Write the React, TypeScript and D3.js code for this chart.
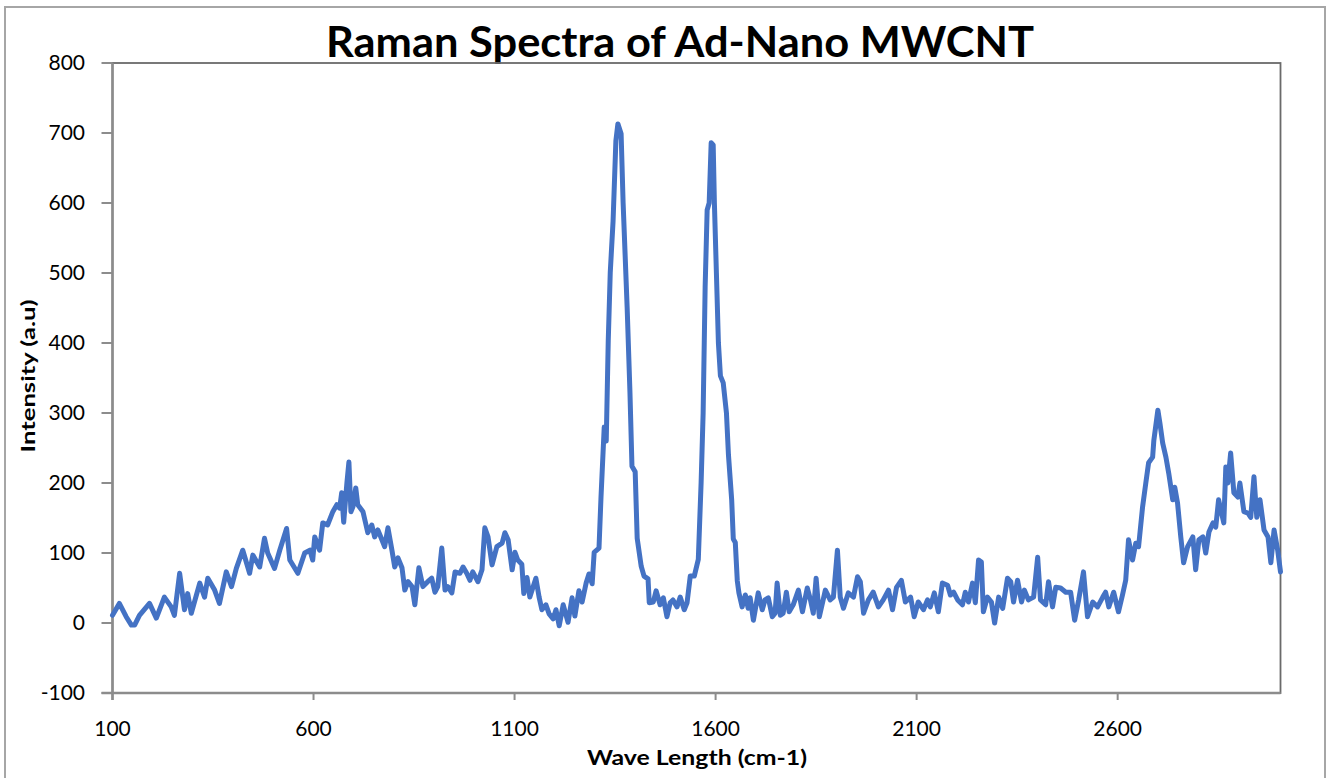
import React from 'react';
import * as d3 from 'd3';

// Raman shift (cm-1) and intensity
const WAVE = [
  100, 117, 134, 147, 155, 167, 192, 209, 229, 246, 254, 267, 279, 287, 296, 317, 329, 337, 354, 366,
  383, 396, 408, 424, 441, 449, 466, 478, 486, 503, 516, 533, 541, 561, 578, 591, 598, 603, 615, 623,
  635, 648, 658, 665, 670, 675, 683, 688, 693, 698, 705, 710, 723, 735, 745, 752, 760, 770, 777, 785,
  795, 802, 810, 820, 827, 835, 845, 852, 862, 872, 884, 894, 902, 909, 919, 927, 934, 944, 952, 964,
  972, 981, 989, 996, 1009, 1019, 1026, 1034, 1044, 1056, 1069, 1076, 1084, 1094, 1101, 1108, 1118, 1123, 1131, 1138,
  1153, 1161, 1168, 1178, 1186, 1196, 1203, 1211, 1221, 1233, 1243, 1250, 1260, 1268, 1278, 1285, 1293, 1298, 1310, 1315,
  1323, 1328, 1333, 1338, 1345, 1352, 1357, 1365, 1370, 1380, 1387, 1392, 1400, 1405, 1415, 1422, 1432, 1435, 1445, 1452,
  1462, 1470, 1479, 1487, 1494, 1504, 1512, 1522, 1529, 1537, 1547, 1557, 1564, 1569, 1574, 1579, 1584, 1589, 1594, 1597,
  1602, 1607, 1612, 1619, 1627, 1632, 1640, 1644, 1649, 1654, 1658, 1666, 1674, 1681, 1686, 1694, 1706, 1716, 1723, 1731,
  1741, 1748, 1753, 1761, 1768, 1776, 1783, 1793, 1806, 1816, 1828, 1836, 1843, 1850, 1858, 1873, 1885, 1893, 1903, 1910,
  1918, 1930, 1943, 1953, 1960, 1968, 1980, 1992, 2005, 2017, 2030, 2040, 2050, 2062, 2072, 2085, 2094, 2104, 2117, 2127,
  2134, 2144, 2154, 2164, 2177, 2184, 2192, 2202, 2214, 2221, 2229, 2239, 2246, 2254, 2261, 2266, 2276, 2286, 2294, 2304,
  2314, 2326, 2334, 2341, 2351, 2361, 2368, 2378, 2391, 2401, 2408, 2421, 2428, 2438, 2446, 2458, 2471, 2483, 2493, 2503,
  2515, 2525, 2538, 2550, 2563, 2570, 2578, 2590, 2602, 2612, 2620, 2627, 2637, 2645, 2652, 2662, 2670, 2677, 2687, 2690,
  2700, 2705, 2712, 2720, 2727, 2737, 2742, 2749, 2757, 2764, 2774, 2787, 2794, 2802, 2812, 2819, 2827, 2837, 2844, 2851,
  2864, 2869, 2874, 2881, 2889, 2899, 2904, 2914, 2924, 2931, 2939, 2946, 2954, 2964, 2974, 2981, 2989, 2998, 3005,
];

const INTENSITY = [
  11, 28, 9, -3, -3, 11, 28, 7, 37, 23, 11, 71, 19, 42, 14, 57, 37, 64, 47, 28,
  73, 52, 78, 104, 71, 97, 80, 121, 100, 78, 104, 135, 90, 71, 100, 104, 90, 123, 104, 143,
  140, 159, 169, 164, 186, 144, 200, 230, 159, 166, 193, 169, 159, 129, 140, 123, 133, 119, 109, 136,
  104, 80, 93, 79, 47, 59, 52, 26, 79, 52, 59, 64, 44, 52, 107, 47, 52, 43, 73, 71,
  80, 71, 61, 73, 59, 76, 136, 123, 83, 109, 114, 129, 119, 76, 101, 90, 84, 42, 65, 37,
  64, 37, 19, 26, 13, 6, 19, -4, 26, 1, 36, 10, 46, 30, 57, 70, 56, 101, 107, 180,
  280, 260, 403, 501, 574, 689, 713, 699, 600, 451, 329, 224, 216, 121, 81, 67, 63, 29, 30, 46,
  26, 36, 9, 29, 33, 23, 37, 19, 29, 67, 67, 91, 201, 300, 480, 590, 600, 686, 683, 600,
  500, 400, 353, 343, 300, 240, 176, 120, 115, 60, 43, 23, 40, 21, 36, 4, 43, 19, 33, 36,
  9, 14, 57, 11, 14, 44, 16, 26, 47, 16, 50, 33, 14, 64, 9, 47, 33, 37, 104, 37,
  21, 43, 37, 66, 59, 14, 33, 44, 23, 33, 47, 19, 51, 61, 30, 37, 9, 30, 19, 33,
  23, 43, 16, 57, 54, 40, 44, 33, 26, 44, 30, 57, 29, 90, 87, 16, 37, 30, 0, 37,
  21, 64, 59, 30, 61, 30, 47, 33, 37, 94, 33, 26, 59, 23, 51, 50, 44, 44, 4, 33,
  73, 9, 30, 23, 37, 44, 23, 44, 16, 40, 61, 119, 90, 114, 109, 166, 200, 229, 237, 261,
  304, 286, 257, 237, 214, 176, 194, 171, 123, 86, 109, 123, 76, 119, 123, 100, 130, 143, 137, 176,
  143, 223, 200, 243, 186, 180, 200, 159, 157, 151, 209, 151, 176, 133, 123, 86, 133, 104, 73,
];

const X_TICKS = [100, 600, 1100, 1600, 2100, 2600];
const Y_TICKS = [-100, 0, 100, 200, 300, 400, 500, 600, 700, 800];

const TITLE = 'Raman Spectra of Ad-Nano MWCNT';
const X_TITLE = 'Wave Length (cm-1)';
const Y_TITLE = 'Intensity (a.u)';

const FONT = 'Lato, "Open Sans", sans-serif';

const App: React.FC = () => {
  const width = 1333;
  const height = 778;
  const plot = { left: 112.5, top: 63, right: 1280.5, bottom: 693 };

  const x = d3.scaleLinear().domain([100, 3005]).range([plot.left, plot.right]);
  const y = d3.scaleLinear().domain([-100, 800]).range([plot.bottom, plot.top]);

  const points: [number, number][] = WAVE.map((w, i) => [w, INTENSITY[i]]);
  const path = d3.line<[number, number]>()
    .x(d => x(d[0]))
    .y(d => y(d[1]))(points) || '';

  const axisColor = '#8c8c8c';

  return (
    <svg
      width={width}
      height={height}
      style={{ position: 'absolute', left: 0, top: 0, background: '#fff' }}
      fontFamily={FONT}
    >
      {/* chart area border */}
      <rect x={5} y={7} width={1320} height={800} fill="#fff" stroke="#a6a6a6" strokeWidth={2} />

      <text
        x={680}
        y={57}
        textAnchor="middle"
        fontSize={42}
        fontWeight="bold"
        fill="#000"
        textLength={708}
        lengthAdjust="spacingAndGlyphs"
      >
        {TITLE}
      </text>

      {/* plot area frame */}
      <rect
        x={plot.left}
        y={plot.top}
        width={plot.right - plot.left}
        height={plot.bottom - plot.top}
        fill="none"
        stroke="#6a6a6a"
        strokeWidth={1.8}
      />

      {/* axis lines */}
      <line x1={plot.left} x2={plot.left} y1={plot.top} y2={plot.bottom + 7} stroke={axisColor} strokeWidth={2.5} />
      <line x1={plot.left - 11} x2={plot.right} y1={plot.bottom} y2={plot.bottom} stroke={axisColor} strokeWidth={2.5} />

      {Y_TICKS.map(t => (
        <g key={`y${t}`}>
          <line x1={plot.left - 11} x2={plot.left} y1={y(t)} y2={y(t)} stroke={axisColor} strokeWidth={2} />
          <text x={85} y={y(t)} dy="0.35em" textAnchor="end" fontSize={21} fill="#000">
            {t}
          </text>
        </g>
      ))}

      {X_TICKS.map(t => (
        <g key={`x${t}`}>
          <line x1={x(t)} x2={x(t)} y1={plot.bottom} y2={plot.bottom + 7} stroke={axisColor} strokeWidth={2} />
          <text x={x(t)} y={729} dy="0.35em" textAnchor="middle" fontSize={21} fill="#000">
            {t}
          </text>
        </g>
      ))}

      <path
        d={path}
        fill="none"
        stroke="#4472C4"
        strokeWidth={5}
        strokeLinejoin="round"
        strokeLinecap="round"
      />

      <text
        x={697}
        y={765}
        textAnchor="middle"
        fontSize={20}
        fontWeight="bold"
        fill="#000"
        textLength={220}
        lengthAdjust="spacingAndGlyphs"
      >
        {X_TITLE}
      </text>

      <text
        transform="translate(35, 376) rotate(-90)"
        textAnchor="middle"
        fontSize={19}
        fontWeight="bold"
        fill="#000"
        textLength={153}
        lengthAdjust="spacingAndGlyphs"
      >
        {Y_TITLE}
      </text>
    </svg>
  );
};

export default App;
